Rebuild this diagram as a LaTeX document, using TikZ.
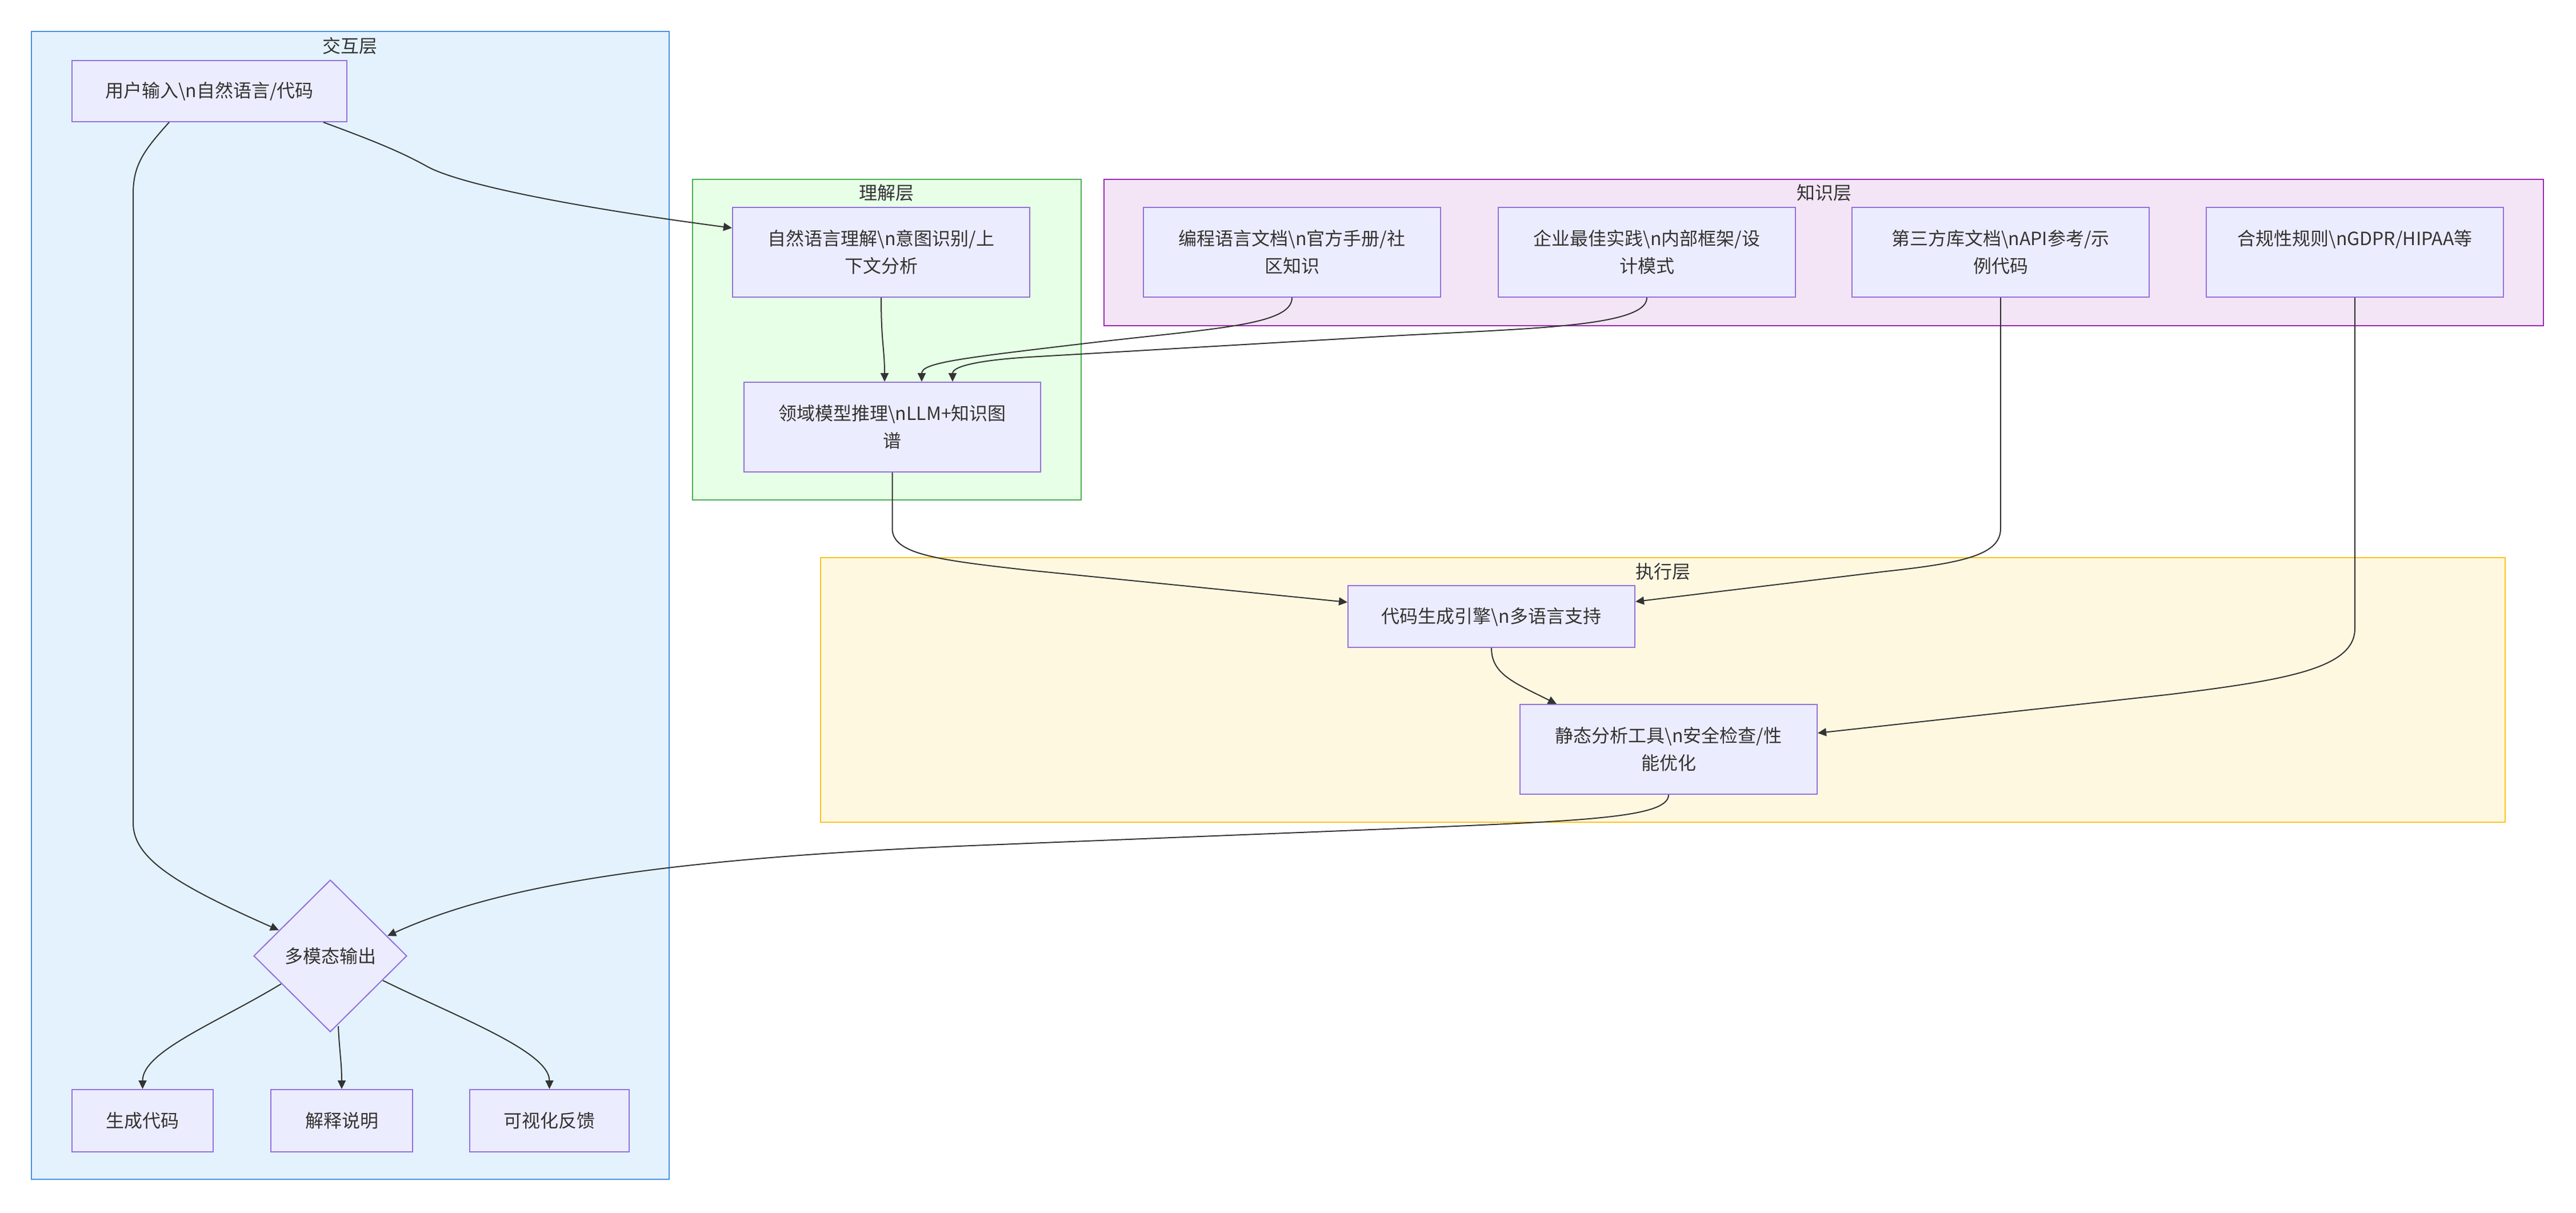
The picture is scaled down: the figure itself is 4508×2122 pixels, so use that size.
\documentclass[tikz,border=0pt]{standalone}
\usepackage{fontspec}
\setmainfont{Noto Sans CJK SC}
\usetikzlibrary{shapes.geometric,arrows.meta,calc}
\definecolor{nodef}{HTML}{ECECFF}
\definecolor{nodeb}{HTML}{9370DB}
\definecolor{txt}{HTML}{333333}
\definecolor{bluef}{HTML}{E3F2FD}
\definecolor{blueb}{HTML}{4A90E2}
\definecolor{greenf}{HTML}{E6FFE6}
\definecolor{greenb}{HTML}{4CAF50}
\definecolor{purpf}{HTML}{F3E5F5}
\definecolor{purpb}{HTML}{9C27B0}
\definecolor{yelf}{HTML}{FFF8E1}
\definecolor{yelb}{HTML}{FFC107}
\newcommand\lz{\rule[-2pt]{0pt}{16pt}}
\tikzset{
  every node/.style={font=\fontsize{16}{24}\selectfont, text=txt},
  box/.style={draw=nodeb, fill=nodef, line width=1pt, inner sep=0pt, align=center},
  ttl/.style={inner sep=0pt},
  edge/.style={draw=txt, line width=1pt, -{Triangle[length=7.5pt,width=7pt]}},
}
\begin{document}
\begin{tikzpicture}[x=0.5pt,y=-0.5pt]
\useasboundingbox (0,0) rectangle (4508,2122);
% frames
\draw[fill=bluef, draw=blueb, line width=1pt] (55,55) rectangle (1171,2064);
\draw[fill=greenf, draw=greenb, line width=1pt] (1212,314) rectangle (1892,875);
\draw[fill=purpf, draw=purpb, line width=1pt] (1932,314) rectangle (4451,570);
\draw[fill=yelf, draw=yelb, line width=1pt] (1436,976) rectangle (4384,1439);
\node[ttl] (t1) at (612,80) {\lz 交互层};
\node[ttl] (t2) at (1551,337) {\lz 理解层};
\node[ttl] (t3) at (3192,337) {\lz 知识层};
\node[ttl] (t4) at (2910,1000) {\lz 执行层};
% nodes
\node[box, minimum width=240.5pt, minimum height=53.5pt] (user) at (366.5,159.5) {\lz 用户输入\textbackslash{}n自然语言/代码};
\node[box, minimum width=260pt, minimum height=78.5pt] (nlu) at (1542,441.5) {\lz 自然语言理解\textbackslash{}n意图识别/上\\\lz 下文分析};
\node[box, minimum width=259.5pt, minimum height=78.5pt] (dom) at (1561.5,747.5) {\lz 领域模型推理\textbackslash{}nLLM+知识图\\\lz 谱};
\node[box, minimum width=260pt, minimum height=78.5pt] (k1) at (2261,441.5) {\lz 编程语言文档\textbackslash{}n官方手册/社\\\lz 区知识};
\node[box, minimum width=260pt, minimum height=78.5pt] (k2) at (2882,441.5) {\lz 企业最佳实践\textbackslash{}n内部框架/设\\\lz 计模式};
\node[box, minimum width=260pt, minimum height=78.5pt] (k3) at (3501,441.5) {\lz 第三方库文档\textbackslash{}nAPI参考/示\\\lz 例代码};
\node[box, minimum width=260pt, minimum height=78.5pt] (k4) at (4121,441.5) {\lz 合规性规则\textbackslash{}nGDPR/HIPAA等\\\lz};
\node[box, minimum width=251pt, minimum height=54pt] (gen) at (2610,1079) {\lz 代码生成引擎\textbackslash{}n多语言支持};
\node[box, minimum width=260pt, minimum height=78.5pt] (sta) at (2920,1311.5) {\lz 静态分析工具\textbackslash{}n安全检查/性\\\lz 能优化};
\node[box, diamond, aspect=1, minimum width=134pt, minimum height=133pt] (dia) at (578,1673) {\lz 多模态输出};
\node[box, minimum width=123.5pt, minimum height=54.5pt] (o1) at (249.5,1961.5) {\lz 生成代码};
\node[box, minimum width=124pt, minimum height=54.5pt] (o2) at (598,1961.5) {\lz 解释说明};
\node[box, minimum width=139.5pt, minimum height=54.5pt] (o3) at (961.5,1961.5) {\lz 可视化反馈};
% edges
\draw[edge] ($(user.south)+(199.5,0)$) .. controls (650,245) and (700,265) .. (745,290) .. controls (800,322) and (1000,362) .. ($(nlu.west)+(0,-42.5)$);
\draw[edge] ($(user.south)+(-70.5,0)$) .. controls (250,265) and (233,290) .. (233,340) -- (233,1440) .. controls (233,1500) and (300,1545) .. ($(dia.center)+(-90,-45)$);
\draw[edge] (nlu.south) .. controls (1542,600) and (1548,610) .. ($(dom.north)+(-13.5,0)$);
\draw[edge] (k1.south) .. controls (2261,570) and (2120,575) .. (1900,601) .. controls (1680,627) and (1613,635) .. ($(dom.north)+(51.5,0)$);
\draw[edge] (k2.south) .. controls (2882,575) and (2650,575) .. (2400,590) -- (1800,625) .. controls (1720,630) and (1667,640) .. ($(dom.north)+(105.5,0)$);
\draw[edge] (dom.south) -- (1561.5,925) .. controls (1561.5,970) and (1640,980) .. (1800,998) -- ($(gen.west)+(0,-25)$);
\draw[edge] (k3.south) -- (3501,925) .. controls (3501,970) and (3440,985) .. (3300,1000) -- ($(gen.east)+(0,-26)$);
\draw[edge] (gen.south) .. controls (2610,1180) and (2650,1195) .. ($(sta.north)+(-196,0)$);
\draw[edge] (k4.south) -- (4121,1100) .. controls (4121,1170) and (4000,1190) .. (3800,1215) -- ($(sta.east)+(0,-28.5)$);
\draw[edge] (sta.south) .. controls (2920,1430) and (2780,1436) .. (2500,1448) -- (1700,1480) .. controls (1100,1505) and (850,1560) .. ($(dia.center)+(100,-35)$);
\draw[edge] ($(dia.center)+(-86,49)$) .. controls (380,1790) and (249.5,1840) .. (o1.north);
\draw[edge] ($(dia.center)+(14,123)$) .. controls (594,1840) and (598,1860) .. (o2.north);
\draw[edge] ($(dia.center)+(92,43)$) .. controls (800,1780) and (961.5,1840) .. (o3.north);
\end{tikzpicture}
\end{document}
